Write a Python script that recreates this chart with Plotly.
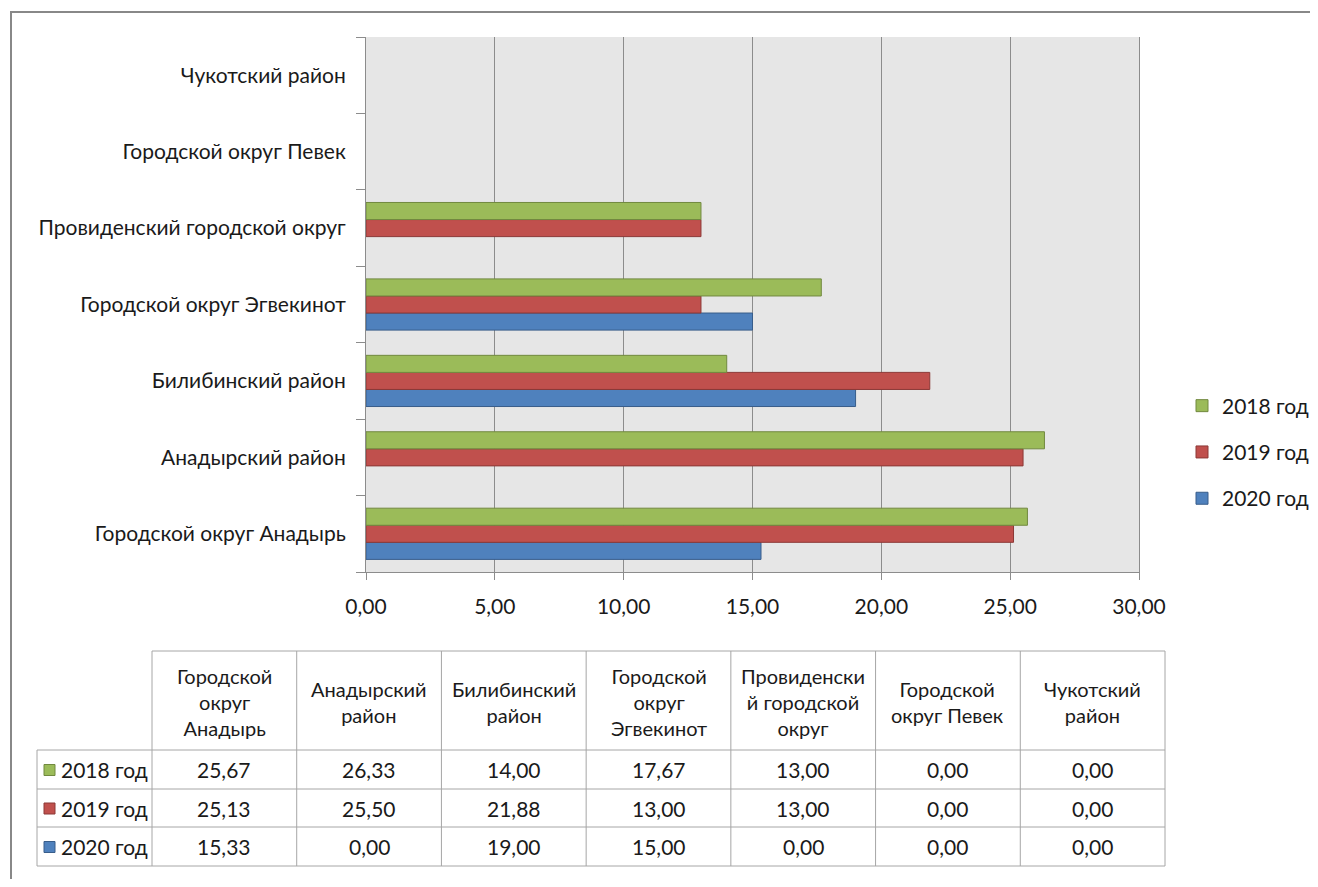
import plotly.graph_objects as go

categories = ["Городской округ Анадырь", "Анадырский район", "Билибинский район",
              "Городской округ Эгвекинот", "Провиденский городской округ",
              "Городской округ Певек", "Чукотский район"]
header_labels = ["Городской<br>округ<br>Анадырь", "Анадырский<br>район", "Билибинский<br>район",
                 "Городской<br>округ<br>Эгвекинот", "Провиденски<br>й городской<br>округ",
                 "Городской<br>округ Певек", "Чукотский<br>район"]
series_names = ["2018 год", "2019 год", "2020 год"]
values_2018 = [25.67, 26.33, 14.00, 17.67, 13.00, 0.00, 0.00]
values_2019 = [25.13, 25.50, 21.88, 13.00, 13.00, 0.00, 0.00]
values_2020 = [15.33, 0.00, 19.00, 15.00, 0.00, 0.00, 0.00]
x_ticks = [0, 5, 10, 15, 20, 25, 30]

series_values = [values_2018, values_2019, values_2020]
fill_colors = ["#9bbb59", "#c0504d", "#4f81bd"]
line_colors = ["#71893f", "#8c3836", "#385d8a"]

FONT = "Lato, 'Open Sans', sans-serif"
TXT = "#1a1a1a"
GRID = "#8c8c8c"
FS = 21

# page has an 8px body margin; figure origin sits at reference pixel (8, 8)
OFF = 8
Wf, Hf = 1310, 871
PL, PR, PT, PB = 366, 1139, 37, 572   # plot area in reference pixels
pw = PR - PL
ph = PB - PT


def px(x):
    return (x - PL) / pw


def py(y):
    return (PB - y) / ph


fig = go.Figure()
# add 2020 first so that 2018 is drawn on top within each group
for i in [2, 1, 0]:
    vals = series_values[i]
    fig.add_trace(go.Bar(
        y=categories, x=vals, orientation="h", name=series_names[i],
        legendgroup=series_names[i], legendrank=i + 1,
        marker=dict(color=fill_colors[i],
                    line=dict(color=line_colors[i], width=[1 if v > 0 else 0 for v in vals])),
    ))

shapes = []
annotations = []

# data table geometry (reference pixels)
tab_left = 37
col_start = 152
col_end = 1165
cw = (col_end - col_start) / len(categories)
head_top = 651
row_lines = [750, 789, 827, 866]
tcol = "#a6a6a6"


def hline(y, x0, x1):
    shapes.append(dict(type="line", xref="paper", yref="paper", x0=px(x0), x1=px(x1),
                       y0=py(y), y1=py(y), line=dict(color=tcol, width=1)))


def vline(x, y0, y1):
    shapes.append(dict(type="line", xref="paper", yref="paper", x0=px(x), x1=px(x),
                       y0=py(y0), y1=py(y1), line=dict(color=tcol, width=1)))


hline(head_top, col_start, col_end)
for yl in row_lines:
    hline(yl, tab_left, col_end)
vline(tab_left, row_lines[0], row_lines[-1])
for i in range(len(categories) + 1):
    vline(col_start + i * cw, head_top, row_lines[-1])

for i, lab in enumerate(header_labels):
    annotations.append(dict(xref="paper", yref="paper", x=px(col_start + (i + 0.5) * cw),
                            y=py((head_top + row_lines[0]) / 2 + 1), text=lab, showarrow=False,
                            xanchor="center", yanchor="middle", align="center",
                            font=dict(family=FONT, size=20, color=TXT)))

for r, name in enumerate(series_names):
    yc = (row_lines[r] + row_lines[r + 1]) / 2
    shapes.append(dict(type="rect", xref="paper", yref="paper", x0=px(44), x1=px(55),
                       y0=py(yc + 6), y1=py(yc - 5), fillcolor=fill_colors[r],
                       line=dict(color=line_colors[r], width=1)))
    annotations.append(dict(xref="paper", yref="paper", x=px(59), y=py(yc), text=name,
                            showarrow=False, xanchor="left", yanchor="middle",
                            font=dict(family=FONT, size=FS, color=TXT)))
    for c, v in enumerate(series_values[r]):
        annotations.append(dict(xref="paper", yref="paper", x=px(col_start + (c + 0.5) * cw),
                                y=py(yc), text=f"{v:.2f}".replace(".", ","), showarrow=False,
                                xanchor="center", yanchor="middle",
                                font=dict(family=FONT, size=FS, color=TXT)))

# outer frame
shapes.append(dict(type="rect", xref="paper", yref="paper", x0=px(11), x1=px(1340),
                   y0=py(905), y1=py(12), line=dict(color="#888888", width=2),
                   fillcolor="rgba(0,0,0,0)", layer="below"))

fig.update_layout(
    width=Wf, height=Hf,
    margin=dict(l=PL - OFF, r=Wf - (PR - OFF), t=PT - OFF, b=Hf - (PB - OFF), autoexpand=False),
    paper_bgcolor="white", plot_bgcolor="#e6e6e6",
    separators=", ",
    barmode="group", bargap=0.33, bargroupgap=0,
    font=dict(family=FONT, size=FS, color=TXT),
    showlegend=True,
    legend=dict(x=px(1182), y=py(452), xanchor="left", yanchor="middle",
                traceorder="grouped", tracegroupgap=16,
                font=dict(family=FONT, size=FS, color=TXT), bgcolor="rgba(0,0,0,0)"),
    shapes=shapes, annotations=annotations,
)
fig.update_xaxes(range=[0, 30], tickvals=x_ticks, tickformat=".2f",
                 showgrid=True, gridcolor=GRID, gridwidth=1,
                 showline=True, linecolor=GRID, linewidth=1,
                 ticks="outside", ticklen=7, tickcolor=GRID, ticklabelstandoff=9,
                 zeroline=False, tickfont=dict(family=FONT, size=FS, color=TXT))
fig.update_yaxes(type="category", showgrid=False, showline=True, linecolor=GRID, linewidth=1,
                 mirror=True, ticks="outside", tickson="boundaries", ticklen=9, tickcolor=GRID,
                 ticklabelstandoff=15, tickfont=dict(family=FONT, size=FS, color=TXT))

fig.write_html("out.html")
